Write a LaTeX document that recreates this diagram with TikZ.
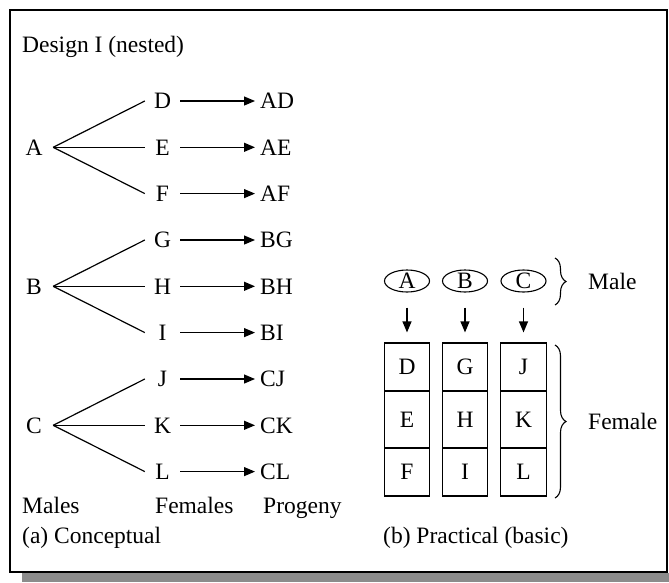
\documentclass[tikz,border=0pt]{standalone}
\usepackage{fontspec}
\setmainfont{Liberation Serif}
\usetikzlibrary{arrows.meta,shapes.geometric,decorations.pathreplacing}
\begin{document}
\begin{tikzpicture}[x=1pt,y=-1pt,
  txt/.style={font=\fontsize{23.5}{28}\selectfont, inner sep=0pt},
  male/.style={txt, text height=15.4pt, text depth=0pt, minimum width=38pt},
  fem/.style={txt, text height=15.4pt, text depth=0pt, minimum width=35pt},
  prog/.style={txt, text height=15.4pt, text depth=0pt, anchor=west, inner xsep=5pt},
  branch/.style={line width=1.2pt},
  arr/.style={line width=1.2pt, -{Triangle[length=11pt,width=9pt]}},
  oval/.style={ellipse, draw, line width=1.1pt, minimum width=45pt, minimum height=22pt, inner sep=0pt, txt, text height=15.4pt, text depth=0pt},
  cell/.style={draw, line width=1.2pt, minimum width=45.5pt, txt, text height=15.4pt, text depth=0pt},
  brc/.style={decorate, decoration={brace, amplitude=11pt}, line width=1.1pt},
  captxt/.style={txt, anchor=base west}
]
\useasboundingbox (0,0) rectangle (669,582);
% frame and shadow
\fill[gray!90] (22,573) rectangle (669,582);
\draw[line width=2pt] (10,10) rectangle (667,572);

\node[captxt] (title) at (22,52) {Design I (nested)};

% tree: males
\node[male] (A) at (34,147.3) {A};
\node[male] (B) at (34,286.3) {B};
\node[male] (C) at (34,425.3) {C};
% females
\node[fem] (D) at (162.5,101) {D};
\node[fem] (E) at (162.5,147.3) {E};
\node[fem] (F) at (162.5,193.6) {F};
\node[fem] (G) at (162.5,240) {G};
\node[fem] (H) at (162.5,286.3) {H};
\node[fem] (I) at (162.5,332.6) {I};
\node[fem] (J) at (162.5,379) {J};
\node[fem] (K) at (162.5,425.3) {K};
\node[fem] (L) at (162.5,471.6) {L};
% progeny
\node[prog] (AD) at (255,101) {AD};
\node[prog] (AE) at (255,147.3) {AE};
\node[prog] (AF) at (255,193.6) {AF};
\node[prog] (BG) at (255,240) {BG};
\node[prog] (BH) at (255,286.3) {BH};
\node[prog] (BI) at (255,332.6) {BI};
\node[prog] (CJ) at (255,379) {CJ};
\node[prog] (CK) at (255,425.3) {CK};
\node[prog] (CL) at (255,471.6) {CL};

\foreach \m/\a/\b/\c in {A/D/E/F, B/G/H/I, C/J/K/L}{
  \draw[branch] (\m.east) -- (\a.west);
  \draw[branch] (\m.east) -- (\b.west);
  \draw[branch] (\m.east) -- (\c.west);
}
\foreach \f/\p in {D/AD, E/AE, F/AF, G/BG, H/BH, I/BI, J/CJ, K/CK, L/CL}{
  \draw[arr] (\f.east) -- (\p.west);
}

\node[captxt] (lmales) at (22,513) {Males};
\node[captxt] (lfemales) at (155,513) {Females};
\node[captxt] (lprogeny) at (263,513) {Progeny};
\node[captxt] (capa) at (22,543) {(a) Conceptual};
\node[captxt] (capb) at (383,543) {(b) Practical (basic)};

% practical panel
\node[oval] (oA) at (407,281) {A};
\node[oval] (oB) at (465,281) {B};
\node[oval] (oC) at (523.5,281) {C};

\node[cell, minimum height=48pt] (cD) at (407,367) {D};
\node[cell, minimum height=57pt] (cE) at (407,419.5) {E};
\node[cell, minimum height=48pt] (cF) at (407,472) {F};
\node[cell, minimum height=48pt] (cG) at (465,367) {G};
\node[cell, minimum height=57pt] (cH) at (465,419.5) {H};
\node[cell, minimum height=48pt] (cI) at (465,472) {I};
\node[cell, minimum height=48pt] (cJ) at (523.5,367) {J};
\node[cell, minimum height=57pt] (cK) at (523.5,419.5) {K};
\node[cell, minimum height=48pt] (cL) at (523.5,472) {L};

\foreach \o/\c in {oA/cD, oB/cG, oC/cJ}{
  \draw[arr, shorten <=15pt, shorten >=10pt] (\o.south) -- (\c.north);
}

\coordinate (m1) at (555,258);
\coordinate (m2) at (555,305);
\draw[brc] (m1) -- (m2);
\node[captxt] (lmale) at (588,289) {Male};
\coordinate (f1) at (555,345);
\coordinate (f2) at (555,498);
\draw[brc] (f1) -- (f2);
\node[captxt] (lfemale) at (588,429) {Female};
\end{tikzpicture}
\end{document}
